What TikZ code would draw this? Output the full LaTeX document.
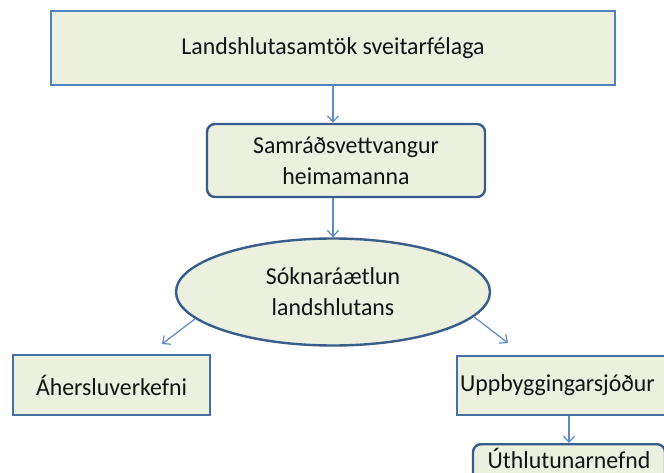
\documentclass[tikz,border=0pt]{standalone}
\usepackage{fontspec}
\setmainfont[FakeStretch=0.98]{Carlito}
\usetikzlibrary{shapes.geometric,arrows.meta}
\definecolor{boxfill}{HTML}{EBF1DE}
\definecolor{lightborder}{HTML}{4F81BD}
\definecolor{midborder}{HTML}{45709F}
\definecolor{darkborder}{HTML}{385D8A}
\definecolor{arrowcol}{HTML}{5B8BC9}
\definecolor{txt}{HTML}{141414}
\begin{document}
\begin{tikzpicture}[x=1pt,y=-1pt,
  every node/.style={font=\fontsize{24.3}{31}\selectfont, text=txt},
  sqbox/.style={draw=midborder, line width=2pt, fill=boxfill, inner sep=0pt},
  rndbox/.style={draw=darkborder, line width=2.4pt, fill=boxfill, rounded corners=8pt, inner sep=0pt, align=center},
  ellbox/.style={ellipse, draw=darkborder, line width=2.4pt, fill=boxfill, inner sep=0pt, align=center},
  conn/.style={draw=arrowcol, line width=1.2pt, -{Straight Barb[length=6pt,width=11pt,line width=1.2pt]}}]
\useasboundingbox (0,0) rectangle (664,473);
\clip (0,0) rectangle (664,473);
\fill[white] (0,0) rectangle (664,473);
% nodes
\node[sqbox, draw=lightborder, minimum width=564pt, minimum height=74pt] (top) at (333,48) {Landshlutasamtök sveitarfélaga};
\node[rndbox, minimum width=278pt, minimum height=73pt] (samr) at (346,160.5) {Samráðsvettvangur\\heimamanna};
\node[ellbox, minimum width=314pt, minimum height=107pt] (sokn) at (333,292) {Sóknaráætlun\\landshlutans};
\node[sqbox, minimum width=197pt, minimum height=60pt] (ahers) at (111.5,385) {Áhersluverkefni};
\node[sqbox, anchor=west, minimum height=59pt, text width=232pt, align=left, inner xsep=3pt] (uppb) at (456,385.5) {Uppbyggingarsjóður};
\node[rndbox, anchor=north, minimum width=192pt, inner ysep=4pt, text height=20pt, text depth=30pt] (uth) at (569,443) {Úthlutunarnefnd};
% free ends
\coordinate (ahersTip) at (162,344);
\coordinate (uppbTip) at (508,343);
% connectors
\draw[conn] (top.south) -- (top.south |- samr.north);
\draw[conn] (samr.south -| top.south) -- (sokn.north);
\draw[conn] (sokn.191.5) -- (ahersTip);
\draw[conn] (sokn.-10) -- (uppbTip);
\draw[conn] (uth.north |- uppb.south) -- (uth.north);
\end{tikzpicture}
\end{document}
